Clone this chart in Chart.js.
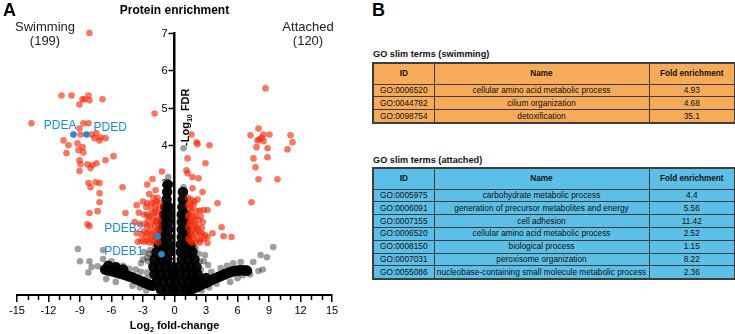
<!DOCTYPE html>
<html>
<head>
<meta charset="utf-8">
<script src="https://cdn.jsdelivr.net/npm/chart.js@4.4.1/dist/chart.umd.min.js"></script>
<style>
  html, body { margin: 0; padding: 0; background: #fff; }
  body { width: 735px; height: 334px; position: relative; overflow: hidden; font-family: "Liberation Sans", Arial, sans-serif; color: #111; }
  #volcano { position: absolute; left: 0; top: 0; }
  .panel { position: absolute; font-weight: bold; font-size: 18px; line-height: 18px; color: #000; }
  .go-title { position: absolute; left: 373px; font-size: 9.2px; font-weight: bold; line-height: 11px; }
  table.go { position: absolute; left: 372px; width: 362px; border-collapse: collapse; table-layout: fixed; border: 2px solid #3d3d3d; font-size: 8.3px; }
  table.go td, table.go th { border: 1.5px solid #3d3d3d; padding: 0; text-align: center; height: 11.8px; line-height: 11px; white-space: nowrap; overflow: hidden; font-weight: normal; }
  table.go th { height: 19.6px; font-weight: bold; font-size: 8.2px; }
  table.swim td, table.swim th { background: #f7aa58; }
  table.att td, table.att th { background: #5bbfe7; }
</style>
</head>
<body>
<canvas id="volcano" width="370" height="334"></canvas>
<div class="panel" style="left:3px;top:1px">A</div>
<div class="panel" style="left:372px;top:1px">B</div>

<div class="go-title" style="top:49px">GO slim terms (swimming)</div>
<table class="go swim" id="tSwim" style="top:62px">
  <colgroup><col style="width:61px"><col style="width:215px"><col style="width:86px"></colgroup>
  <thead><tr><th>ID</th><th>Name</th><th>Fold enrichment</th></tr></thead>
  <tbody></tbody>
</table>

<div class="go-title" style="top:155px">GO slim terms (attached)</div>
<table class="go att" id="tAtt" style="top:167px">
  <colgroup><col style="width:61px"><col style="width:215px"><col style="width:86px"></colgroup>
  <thead><tr><th>ID</th><th>Name</th><th>Fold enrichment</th></tr></thead>
  <tbody></tbody>
</table>

<script>
// --- panel A data: log2 fold-change (x) and -log10 FDR (y) ---

// significant proteins, swimming side (red)
const sigSwimming = [
  [-8.10,7.00],[-10.76,5.33],[-9.81,5.33],[-8.19,5.33],[-8.76,5.23],[-8.57,5.23],[-8.10,5.20],[-6.86,5.23],
  [-9.05,5.09],[-1.90,4.85],[-13.62,4.59],[-8.67,4.59],[-8.19,4.59],[-9.05,4.45],[-8.95,4.29],[-7.90,4.29],
  [-7.43,4.32],[-7.05,4.21],[-6.57,4.19],[-7.14,4.13],[-7.62,4.19],[-10.57,4.13],[-10.10,4.00],[-9.24,4.05],
  [-8.76,3.95],[-9.14,3.87],[-8.67,3.81],[-10.29,3.79],[-5.81,3.71],[-6.57,3.60],[-9.05,3.60],[-8.95,3.49],
  [-8.29,3.49],[-7.81,3.47],[-7.43,3.52],[-8.00,3.39],[-9.05,3.31],[-8.19,2.99],[-7.52,3.01],[-7.14,2.99],
  [-4.95,2.88],[-8.00,2.88],[-7.14,2.72],[-7.14,2.48],[-7.33,2.24],[-8.10,2.19],[-4.67,2.19],[-8.29,1.89],
  [-8.10,1.84],
  [-1.20,3.30],[-2.60,2.95],[-2.10,3.10],[-1.80,2.80],[-2.40,2.70],[-3.00,2.50],[-3.60,2.40],[-2.70,2.35],
  [-2.20,2.45],[-1.70,2.50],[-3.40,2.20],[-2.90,2.15],[-2.40,2.10],[-1.90,2.20],[-1.50,2.30],[-3.80,1.95],
  [-3.30,1.90],[-2.80,1.90],[-2.30,1.85],[-1.80,1.95],[-1.50,2.00],[-3.60,1.65],[-3.10,1.60],[-2.60,1.65],
  [-2.10,1.60],[-1.70,1.70],[-3.50,1.42],[-2.90,1.42],[-2.40,1.40],[-1.90,1.45],[-1.55,1.40],
  [-2.00,2.60],[-1.60,2.60],[-2.60,2.45],[-1.90,2.45],[-1.40,2.45],[-2.20,2.30],[-1.80,2.30],[-2.60,2.15],
  [-2.10,2.15],[-1.60,2.15],[-2.50,2.00],[-2.00,2.00],[-1.70,2.00],[-2.60,1.85],[-1.90,1.85],[-1.55,1.85],
  [-2.90,1.70],[-2.40,1.70],[-1.90,1.70],[-1.50,1.70],[-2.70,1.55],[-2.20,1.55],[-1.80,1.55],[-1.60,1.55],
  [-3.20,1.45],[-2.60,1.45],[-2.10,1.45]
];

// significant proteins, attached side (red)
const sigAttached = [
  [8.67,5.52],[8.00,4.45],[7.24,4.27],[8.48,4.29],[9.05,4.29],[8.10,4.16],[8.48,4.11],[7.90,4.13],
  [8.30,4.20],[11.05,4.27],[11.24,4.08],[10.76,3.89],[7.81,3.95],[8.86,3.92],[7.52,3.65],[8.86,3.68],
  [7.71,3.41],[8.00,3.09],[9.81,3.09],[7.33,2.48],
  [1.62,4.29],[2.10,4.08],[2.19,4.03],[3.33,4.00],[1.24,3.65],[2.95,3.52],[1.14,3.33],[1.24,3.25],
  [1.71,3.15],[2.29,3.12],[1.71,2.85],[2.67,2.75],[4.10,2.45],[2.76,2.27],[3.14,2.27],[1.52,2.45],
  [1.52,2.32],[2.00,1.87],[2.19,1.73],[4.48,1.81],[3.62,1.65],[4.67,1.57],[5.43,1.55],[3.14,1.55],
  [3.14,1.39],[2.48,1.47],[1.71,1.60],
  [1.30,2.60],[1.90,2.50],[1.40,2.15],[1.80,2.10],[2.30,2.00],[1.40,1.90],[1.70,1.75],[2.60,1.80],
  [1.50,1.45],[2.00,1.40],[2.40,1.65],[2.90,1.60],[1.60,2.00],[2.10,2.25],
  [1.60,2.55],[2.20,2.55],[1.30,2.40],[1.80,2.40],[1.60,2.25],[2.40,2.25],[1.30,2.10],[2.00,2.10],
  [2.50,2.10],[1.50,1.95],[1.90,1.95],[2.70,1.95],[1.30,1.80],[1.80,1.80],[2.20,1.80],[1.50,1.65],
  [2.00,1.65],[2.60,1.65],[1.30,1.50],[1.80,1.50],[2.20,1.50],[2.80,1.50],[1.60,1.40],[2.40,1.40]
];

// non-significant proteins, scattered ones (grey)
const nsScattered = [
  [0.86,3.92],[-0.60,3.15],[-0.80,2.95],[0.86,2.88],[0.60,2.55],[-0.55,2.75],
  [-9.20,1.23],[-9.00,0.90],[-8.10,0.90],[-8.20,0.60],[-7.30,0.77],[-6.50,0.43],[-6.80,0.96],[-6.80,1.20],
  [-6.00,0.90],[-5.50,0.80],[-4.90,0.78],[-4.30,0.70],[-3.70,0.68],[-3.20,0.62],[-2.60,0.60],[-2.20,0.80],
  [-2.60,1.00],[-2.30,1.20],[-2.00,1.05],[-3.00,0.95],[-2.90,1.15],[-3.20,0.85],[-4.00,0.25],[-3.30,0.20],
  [-2.70,0.12],[-5.60,0.35],[-7.90,0.75],[-2.50,0.90],[-2.40,1.10],[-1.90,1.35],[-2.60,0.45],
  [9.40,1.28],[8.20,1.07],[8.80,1.01],[7.50,0.88],[8.00,0.64],[8.40,0.68],[6.30,0.88],[6.50,0.53],
  [5.60,0.85],[5.00,0.78],[4.40,0.72],[2.90,1.07],[2.00,1.25],[2.50,0.67],[2.80,0.90],[3.50,0.62],
  [4.00,0.30],[3.30,0.20],[2.60,0.12],[5.30,0.35],[6.00,0.45],[7.20,0.55],[2.30,1.10],[3.20,0.80],
  [2.40,0.90],[1.80,1.30],[2.60,0.45]
];

// non-significant proteins, dense core, spires and the two wings (black)
const nsDense = [
  [-1.3,0.15],[-0.7,0.15],[-0.1,0.15],[0.5,0.15],[1.1,0.15],
  [-1.7,0.35],[-1.1,0.35],[-0.5,0.35],[0.1,0.35],[0.7,0.35],[1.3,0.35],[1.9,0.35],
  [-1.9,0.55],[-1.3,0.55],[-0.7,0.55],[-0.1,0.55],[0.5,0.55],[1.1,0.55],[1.7,0.55],[2.2,0.55],
  [-2.0,0.75],[-1.4,0.75],[-0.8,0.75],[-0.2,0.75],[0.4,0.75],[1.0,0.75],[1.6,0.75],[2.1,0.75],
  [-1.9,0.95],[-1.3,0.95],[-0.7,0.95],[0.7,0.95],[1.3,0.95],[1.9,0.95],
  [-1.7,1.15],[-1.1,1.15],[-0.5,1.15],[0.6,1.15],[1.2,1.15],[1.7,1.15],
  [-1.5,1.35],[-1.0,1.35],[-0.5,1.35],[0.6,1.35],[1.1,1.35],[1.5,1.35],
  [-1.3,1.55],[-0.6,1.55],[-1.2,1.75],[-0.6,1.75],[-1.1,1.95],[-0.55,1.95],[-1.0,2.15],[-0.55,2.15],
  [-0.9,2.35],[-0.55,2.35],[-0.75,2.55],[-0.7,2.75],[-0.65,2.95],
  [0.7,1.55],[1.2,1.55],[0.7,1.75],[1.1,1.75],[0.7,1.95],[1.05,1.95],[0.7,2.15],[1.0,2.15],
  [0.75,2.35],[0.8,2.55],[0.8,2.75],
  [-6.6,0.68],[-6.1,0.65],[-5.6,0.61],[-5.1,0.57],[-4.6,0.53],[-4.1,0.48],[-3.6,0.42],[-3.1,0.36],
  [-2.6,0.30],[-2.1,0.25],[-6.3,0.78],[-5.6,0.74],[-4.9,0.68],
  [-6.35,0.66],[-5.85,0.63],[-5.35,0.59],[-4.85,0.55],[-4.35,0.50],[-3.85,0.45],[-3.35,0.39],[-2.85,0.33],
  [-2.35,0.27],
  [1.5,0.15],[2.0,0.20],[2.5,0.27],[3.0,0.33],[3.5,0.40],[4.0,0.46],[4.5,0.52],[5.0,0.58],
  [5.5,0.63],[6.0,0.65],[6.5,0.66],[6.9,0.65],[2.3,0.36],[3.0,0.45],
  [1.75,0.17],[2.25,0.23],[2.75,0.30],[3.25,0.36],[3.75,0.43],[4.25,0.49],[4.75,0.55],[5.25,0.60],
  [5.75,0.64],[6.25,0.66],[6.7,0.66]
];

// labelled phosphodiesterases (blue)
const pdeNames = ["PDEA", "PDED", "PDEB2", "PDEB1"];
const pdeFc = [-9.62, -8.38, -1.62, -1.24];
const pdeFdr = [4.29, 4.29, 1.57, 1.09];

// axis ticks
const xTicks = [-15, -12, -9, -6, -3, 0, 3, 6, 9, 12, 15];
const xMinorTicks = [-14, -13, -11, -10, -8, -7, -5, -4, -2, -1, 1, 2, 4, 5, 7, 8, 10, 11, 13, 14];
const yTicks = [1, 2, 3, 4, 5, 6, 7];

// --- panel B data ---
const swimIds = ["GO:0006520", "GO:0044782", "GO:0098754"];
const swimNames = ["cellular amino acid metabolic process", "cilium organization", "detoxification"];
const swimFold = ["4.93", "4.68", "35.1"];

const attIds = ["GO:0005975", "GO:0006091", "GO:0007155", "GO:0006520", "GO:0008150", "GO:0007031", "GO:0055086"];
const attNames = ["carbohydrate metabolic process", "generation of precursor metabolites and energy", "cell adhesion",
  "cellular amino acid metabolic process", "biological process", "peroxisome organization",
  "nucleobase-containing small molecule metabolic process"];
const attFold = ["4.4", "5.56", "11.42", "2.52", "1.15", "8.22", "2.36"];

// label placement next to the blue points (pixels)
const labelOffsets = {
  PDEA: { dx: 3, dy: -5, align: "right" },
  PDED: { dx: 7, dy: -3, align: "left" },
  PDEB2: { dx: -14, dy: -4, align: "right" },
  PDEB1: { dx: -18, dy: 1, align: "right" }
};

function fillTable(id, ids, names, folds) {
  const body = document.querySelector('#' + id + ' tbody');
  ids.forEach((go, i) => {
    const tr = document.createElement('tr');
    tr.innerHTML = `<td>${go}</td><td>${names[i]}</td><td>${folds[i]}</td>`;
    body.appendChild(tr);
  });
}
fillTable('tSwim', swimIds, swimNames, swimFold);
fillTable('tAtt', attIds, attNames, attFold);

const FONT = '"Liberation Sans", Arial, sans-serif';
Chart.defaults.font.family = FONT;
Chart.defaults.color = '#000';

const toXY = arr => arr.map(p => ({ x: p[0], y: p[1] }));

// text with a subscript part, centred on x
function drawSubText(ctx, parts, x, y, size) {
  let w = 0;
  parts.forEach(([t, sub]) => {
    ctx.font = `bold ${sub ? size * 0.65 : size}px ${FONT}`;
    w += ctx.measureText(t).width;
  });
  let cx = x - w / 2;
  parts.forEach(([t, sub]) => {
    ctx.font = `bold ${sub ? size * 0.65 : size}px ${FONT}`;
    ctx.fillText(t, cx, sub ? y + size * 0.3 : y);
    cx += ctx.measureText(t).width;
  });
}

const overlay = {
  id: 'overlay',
  // y ticks sit under the points, as in the original
  beforeDatasetsDraw(chart) {
    const { ctx, scales: { x, y } } = chart;
    const x0 = x.getPixelForValue(0);
    ctx.save();
    ctx.strokeStyle = '#000';
    ctx.fillStyle = '#000';
    ctx.lineWidth = 1.5;
    ctx.font = `11px ${FONT}`;
    ctx.textAlign = 'right';
    ctx.textBaseline = 'middle';
    yTicks.forEach(v => {
      const py = Math.round(y.getPixelForValue(v)) + 0.5;
      ctx.beginPath();
      ctx.moveTo(x0 - 1, py);
      ctx.lineTo(x0 - 6, py);
      ctx.stroke();
      ctx.fillText(String(v), x0 - 7, py + 0.5);
    });
    ctx.restore();
  },
  afterDatasetsDraw(chart) {
    const { ctx, scales: { x, y } } = chart;
    ctx.save();
    ctx.fillStyle = '#1d8bd3';
    ctx.font = `12px ${FONT}`;
    ctx.textBaseline = 'alphabetic';
    pdeNames.forEach((n, i) => {
      const o = labelOffsets[n];
      ctx.textAlign = o.align;
      ctx.fillText(n, x.getPixelForValue(pdeFc[i]) + o.dx, y.getPixelForValue(pdeFdr[i]) + o.dy);
    });
    ctx.restore();
  },
  afterDraw(chart) {
    const { ctx, scales: { x, y } } = chart;
    const x0 = x.getPixelForValue(0);
    const yb = y.getPixelForValue(0);
    ctx.save();
    ctx.fillStyle = '#000';
    ctx.strokeStyle = '#000';

    // minor ticks on the x axis
    ctx.lineWidth = 1.5;
    xMinorTicks.forEach(v => {
      const px = Math.round(x.getPixelForValue(v)) + 0.5;
      ctx.beginPath();
      ctx.moveTo(px, yb + 1);
      ctx.lineTo(px, yb + 5);
      ctx.stroke();
    });

    // title and group labels
    ctx.textAlign = 'center';
    ctx.textBaseline = 'alphabetic';
    ctx.font = `bold 12px ${FONT}`;
    ctx.fillText('Protein enrichment', x0, 14);
    ctx.font = `13px ${FONT}`;
    ctx.fillStyle = '#222';
    ctx.fillText('Swimming', 45, 31);
    ctx.fillText('(199)', 45, 45);
    ctx.fillText('Attached', 308, 31);
    ctx.fillText('(120)', 308, 45);

    // axis titles
    ctx.fillStyle = '#000';
    ctx.textAlign = 'left';
    drawSubText(ctx, [['Log', false], ['2', true], [' fold-change', false]], x0, 329, 11);
    ctx.translate(x0 + 14, y.getPixelForValue(4.75));
    ctx.rotate(-Math.PI / 2);
    drawSubText(ctx, [['-Log', false], ['10', true], [' FDR', false]], 0, 0, 11);
    ctx.restore();
  }
};

new Chart(document.getElementById('volcano'), {
  type: 'scatter',
  data: {
    datasets: [
      {
        label: 'PDE',
        data: pdeFc.map((v, i) => ({ x: v, y: pdeFdr[i] })),
        backgroundColor: '#2b86d3',
        pointRadius: 3.3,
        borderWidth: 0,
        clip: false
      },
      {
        label: 'Swimming',
        data: toXY(sigSwimming),
        backgroundColor: 'rgba(242,42,10,0.64)',
        pointRadius: 3.3,
        borderWidth: 0,
        clip: false
      },
      {
        label: 'Attached',
        data: toXY(sigAttached),
        backgroundColor: 'rgba(242,42,10,0.64)',
        pointRadius: 3.3,
        borderWidth: 0,
        clip: false
      },
      {
        label: 'n.s.',
        data: toXY(nsScattered),
        backgroundColor: 'rgba(0,0,0,0.38)',
        pointRadius: 3.3,
        borderWidth: 0,
        clip: false
      },
      {
        label: 'n.s. dense',
        data: toXY(nsDense),
        backgroundColor: 'rgba(0,0,0,0.95)',
        pointRadius: 5.3,
        borderWidth: 0,
        clip: false
      }
    ]
  },
  options: {
    responsive: false,
    animation: false,
    devicePixelRatio: 1,
    layout: { padding: { left: 17, right: 38, top: 33, bottom: 0 } },
    plugins: { legend: { display: false }, tooltip: { enabled: false } },
    scales: {
      x: {
        type: 'linear',
        min: -15,
        max: 15,
        position: 'bottom',
        border: { color: '#000', width: 2 },
        grid: { drawOnChartArea: false, color: '#000', lineWidth: 1.5, tickLength: 7 },
        ticks: { font: { size: 11 }, color: '#000', padding: 2, maxRotation: 0, autoSkip: false },
        afterBuildTicks: s => { s.ticks = xTicks.map(v => ({ value: v })); },
        afterFit: s => { s.height = 39; }
      },
      y: {
        type: 'linear',
        min: 0,
        max: 7,
        position: { x: 0 },
        border: { color: '#000', width: 2.5 },
        grid: { drawOnChartArea: false, drawTicks: false },
        ticks: { display: false }
      }
    }
  },
  plugins: [overlay]
});
</script>
</body>
</html>
